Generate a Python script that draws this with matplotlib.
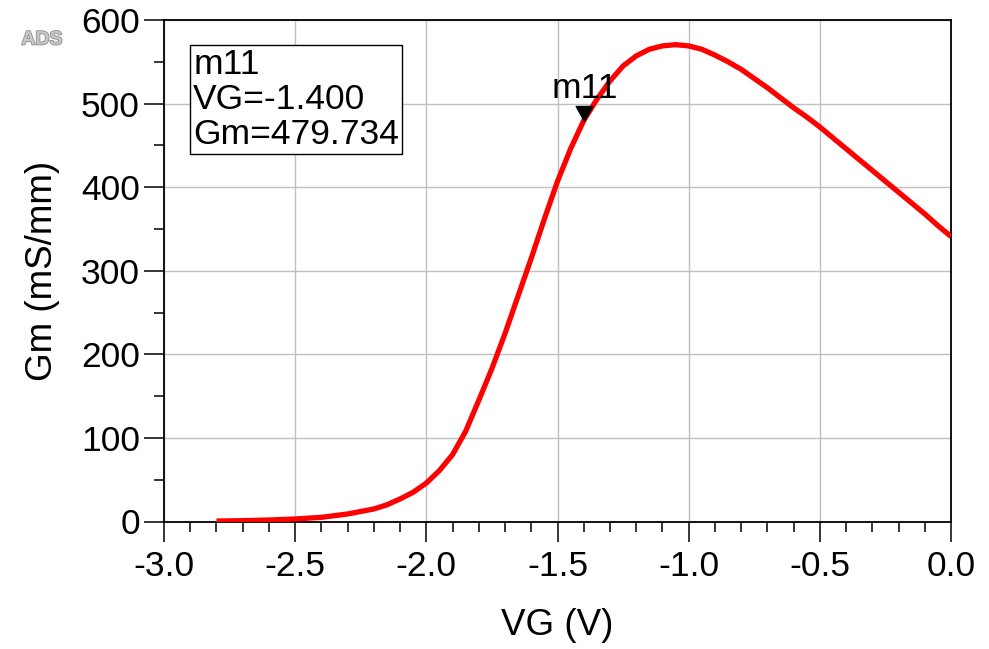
import matplotlib
matplotlib.use("Agg")
import matplotlib.pyplot as plt
from matplotlib.ticker import MultipleLocator, FormatStrFormatter
from matplotlib.path import Path
import matplotlib.patheffects as pe

plt.rcParams['font.family'] = ['Liberation Sans', 'DejaVu Sans']

# Transconductance vs gate voltage
vg = [-2.80, -2.70, -2.60, -2.50, -2.40, -2.30, -2.20, -2.15, -2.10, -2.05,
      -2.00, -1.95, -1.90, -1.85, -1.80, -1.75, -1.70, -1.65, -1.60, -1.55,
      -1.50, -1.45, -1.40, -1.35, -1.30, -1.25, -1.20, -1.15, -1.10, -1.05,
      -1.00, -0.95, -0.90, -0.85, -0.80, -0.75, -0.70, -0.65, -0.60, -0.55,
      -0.50, -0.45, -0.40, -0.35, -0.30, -0.25, -0.20, -0.15, -0.10, -0.05,
      0.00]
gm = [0.5, 1.0, 1.8, 3.0, 5.0, 9.0, 15.0, 20.0, 27.0, 35.0,
      46.0, 61.0, 80.0, 108.0, 145.0, 183.0, 225.0, 270.0, 315.0, 362.0,
      407.0, 446.0, 479.734, 505.0, 527.0, 545.0, 557.0, 565.0, 569.0, 570.5,
      569.0, 565.0, 558.0, 550.0, 541.0, 530.0, 519.0, 507.0, 495.0, 484.0,
      472.0, 459.0, 446.0, 433.0, 420.0, 407.0, 394.0, 381.0, 368.0, 354.0,
      341.0]

marker_name = "m11"
marker_vg = -1.400
marker_gm = 479.734

FS = 25.5

fig = plt.figure(figsize=(9.89, 6.49), dpi=100)
ax = fig.add_axes([164 / 989, 1 - 521.5 / 649, 787 / 989, 501.5 / 649])

ax.plot(vg, gm, color='#ff0000', lw=3.8, solid_capstyle='butt',
        solid_joinstyle='round', zorder=3)

ax.set_xlim(-3.0, 0.0)
ax.set_ylim(0, 600)
ax.xaxis.set_major_locator(MultipleLocator(0.5))
ax.xaxis.set_minor_locator(MultipleLocator(0.1))
ax.yaxis.set_major_locator(MultipleLocator(100))
ax.yaxis.set_minor_locator(MultipleLocator(50))
ax.xaxis.set_major_formatter(FormatStrFormatter('%.1f'))

ax.grid(True, which='major', color='#c0c0c0', lw=1.0, zorder=0)
ax.set_axisbelow(True)
for s in ax.spines.values():
    s.set_color('black')
    s.set_linewidth(1.3)

ax.tick_params(which='major', direction='out', length=14.4, width=1.1,
               labelsize=FS, colors='black')
ax.tick_params(axis='x', which='major', pad=6)
ax.tick_params(axis='y', which='major', pad=3)
ax.tick_params(which='minor', direction='out', length=7.2, width=1.1)

ax.set_xlabel('VG (V)', fontsize=26.5, labelpad=18)
ax.set_ylabel('Gm (mS/mm)', fontsize=26.5, labelpad=15)

# marker triangle with its tip on the data point
tri = Path([(-0.55, 1.0), (0.55, 1.0), (0.0, 0.0), (-0.55, 1.0)],
           [Path.MOVETO, Path.LINETO, Path.LINETO, Path.CLOSEPOLY])
ax.plot([marker_vg], [marker_gm], marker=tri, markersize=21.6,
        color='black', lw=0, zorder=4)
ax.annotate(marker_name, xy=(marker_vg, marker_gm), xytext=(0.5, 16),
            textcoords='offset points', ha='center', va='baseline',
            fontsize=FS, zorder=5)

# marker readout box
ax.text(0.037, 0.944,
        f"{marker_name}\nVG={marker_vg:.3f}\nGm={marker_gm:.3f}",
        transform=ax.transAxes, ha='left', va='top', fontsize=25.5,
        linespacing=1.08, zorder=5,
        bbox=dict(boxstyle='square,pad=0.08', fc='white', ec='black', lw=1.0))

# program badge
fig.text(42 / 989, 1 - 40 / 649, 'ADS', fontsize=14, fontweight='bold',
         color='#c8c8c8', ha='center', va='center',
         path_effects=[pe.withStroke(linewidth=1.2, foreground='#8c8c8c')])

fig.savefig('out.png', dpi=100)
